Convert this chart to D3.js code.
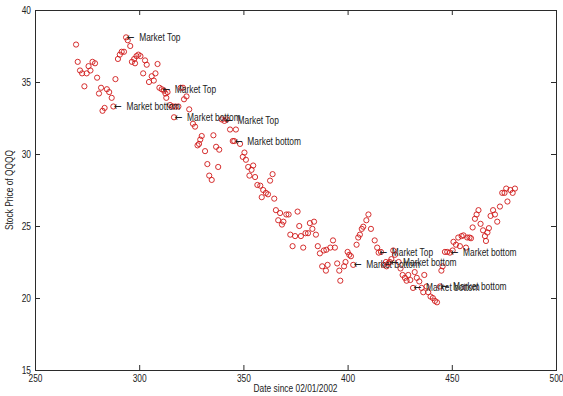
<!DOCTYPE html>
<html>
<head>
<meta charset="utf-8">
<script src="https://cdn.jsdelivr.net/npm/d3@7"></script>
<style>
  html, body { margin: 0; padding: 0; background: #fff; }
  svg { display: block; }
  .lbl { font-family: "Liberation Sans", Arial, Helvetica, sans-serif; }
  .arrow { font-family: "DejaVu Sans", sans-serif; font-size: 11px; }
</style>
</head>
<body>
<svg id="chart" width="563" height="396"></svg>
<script>
// Trading day offset (days since 02/01/2002) for each close
const days = [
  269.7,270.5,271.6,272.6,273.7,274.8,275.7,276.6,277.6,278.8,
  279.8,280.7,281.7,282.4,283.4,284.5,285.6,286.8,287.6,288.6,
  289.8,290.7,291.6,292.7,293.7,294.5,295.7,296.5,297.6,298.0,
  298.7,299.6,300.6,301.9,302.8,303.6,304.7,306.0,307.0,307.8,
  308.8,309.7,310.8,311.9,312.6,313.0,313.6,314.8,316.1,316.7,
  317.4,318.8,319.9,321.0,321.5,322.7,324.0,325.8,326.8,328.0,
  328.7,329.3,330.0,331.6,332.7,333.6,334.8,335.6,336.9,337.9,
  338.4,339.6,340.9,342.0,343.6,344.9,345.6,346.4,348.4,349.7,
  350.5,351.2,352.3,352.9,353.9,354.7,355.6,356.7,358.1,358.8,
  359.5,360.8,361.8,362.8,364.0,364.8,365.6,366.7,367.6,368.5,
  369.2,370.6,371.7,372.5,373.6,374.8,376.0,376.8,377.6,378.7,
  379.8,381.0,381.9,383.1,383.9,384.8,385.7,386.7,387.8,388.6,
  389.8,389.6,390.4,391.7,393.0,393.9,395.0,396.0,396.5,398.3,
  399.0,400.0,400.8,401.6,402.7,404.3,405.1,405.9,406.8,407.5,
  409.0,410.0,411.2,413.0,414.2,414.9,416.0,417.3,418.4,418.7,
  419.5,420.3,421.0,421.9,422.7,424.5,425.4,426.4,427.5,428.3,
  429.1,430.1,431.4,432.2,433.2,434.4,435.5,436.3,436.8,437.9,
  438.7,439.8,440.9,441.9,442.9,444.3,445.0,445.6,446.7,447.8,
  449.1,450.4,450.8,452.0,453.1,453.9,454.7,455.6,456.8,457.4,
  458.5,459.2,460.0,461.1,461.9,462.8,463.8,465.0,465.9,466.4,
  467.1,467.8,468.6,469.8,470.7,471.8,473.1,474.2,475.3,476.1,
  476.7,478.1,479.2,480.3
];

// QQQQ closing prices, same order as days
const prices = [
  37.6,36.4,35.8,35.6,34.7,35.6,36.1,35.8,36.4,36.3,
  35.3,34.2,34.6,33.0,33.2,34.5,34.3,33.9,33.3,35.2,
  36.6,36.9,37.1,37.1,38.1,37.9,37.5,36.4,36.6,36.3,
  36.8,36.9,36.8,35.6,36.5,36.2,35.0,35.4,35.1,35.6,
  36.25,34.6,34.5,34.4,34.2,33.9,34.3,33.4,33.3,32.55,
  33.3,33.3,34.6,34.6,33.8,34.0,33.1,32.1,31.9,30.6,
  30.7,31.0,31.25,30.2,29.3,28.5,28.2,31.3,30.5,29.1,
  30.3,32.4,32.3,32.4,31.7,30.9,30.9,31.7,30.7,29.8,
  30.1,29.6,29.1,28.5,28.9,29.2,28.4,27.85,27.8,27.0,
  27.5,27.3,27.2,28.15,28.6,26.9,26.1,25.4,25.9,25.1,
  25.3,25.8,25.8,24.4,23.6,24.3,26.0,25.0,24.3,23.5,
  24.5,24.5,25.2,24.8,25.3,24.4,23.6,23.1,22.2,23.3,
  23.35,21.9,22.3,23.5,24.0,23.5,22.4,21.9,21.2,22.2,
  22.5,23.2,23.0,22.9,22.3,23.7,24.2,24.4,24.8,24.95,
  25.4,25.8,24.8,24.0,23.5,23.15,23.2,22.3,22.5,22.2,
  22.4,22.5,22.7,23.3,23.0,22.5,22.05,21.6,21.4,21.2,
  21.6,21.25,20.7,21.8,21.4,21.15,20.7,20.4,21.6,20.8,
  20.4,20.1,20.0,19.8,19.7,20.8,21.9,22.2,23.2,23.2,
  23.15,23.3,23.9,23.7,24.2,23.6,24.3,24.35,23.5,24.2,
  24.2,24.15,24.9,25.5,25.8,26.1,25.15,24.7,24.3,23.96,
  24.55,24.85,25.7,26.1,25.8,25.3,26.35,27.3,27.3,27.6,
  26.7,27.5,27.3,27.6
];

// Turning points flagged on the chart
const noteDays   = [287.6, 293.7, 310.8, 316.7, 340.9, 345.6, 402.7, 414.9, 420.3, 431.4, 444.3, 449.1];
const notePrices = [33.3, 38.1, 34.5, 32.55, 32.3, 30.9, 22.3, 23.15, 22.5, 20.7, 20.8, 23.15];
const noteTexts  = ["Market bottom", "Market Top", "Market Top", "Market bottom", "Market Top", "Market bottom",
                    "Market bottom", "Market Top", "Market bottom", "Market bottom", "Market bottom", "Market bottom"];

const xTicks = [250, 300, 350, 400, 450, 500];
const yTicks = [15, 20, 25, 30, 35, 40];

const xTitle = "Date since 02/01/2002";
const yTitle = "Stock Price of QQQQ";

const svg = d3.select("#chart");
const plotL = 35, plotR = 556, plotT = 10, plotB = 370;
const squeeze = 0.84;   // narrow Helvetica-like lettering

const x = d3.scaleLinear().domain([250, 500]).range([plotL, plotR]);
const y = d3.scaleLinear().domain([15, 40]).range([plotB, plotT]);

const axisColor = "#2b2b2b";
const tickLen = 5;

function styleAxis(g, showLabels, anchorX) {
  g.select(".domain").remove();
  g.selectAll(".tick line").attr("stroke", axisColor).attr("stroke-width", 1);
  if (!showLabels) { g.selectAll(".tick text").remove(); return; }
  g.selectAll(".tick text")
    .attr("fill", "#222").attr("class", "lbl").style("font-size", "10px")
    .attr("transform", `translate(${anchorX},0) scale(${squeeze},1) translate(${-anchorX},0)`);
}

// Ticks point inward on all four sides
svg.append("g").attr("transform", `translate(0,${plotB})`)
  .call(d3.axisBottom(x).tickValues(xTicks).tickSizeInner(-tickLen).tickSizeOuter(0).tickPadding(5))
  .call(g => styleAxis(g, true, 0));
svg.append("g").attr("transform", `translate(0,${plotT})`)
  .call(d3.axisTop(x).tickValues(xTicks).tickSizeInner(-tickLen).tickSizeOuter(0))
  .call(g => styleAxis(g, false, 0));
svg.append("g").attr("transform", `translate(${plotL},0)`)
  .call(d3.axisLeft(y).tickValues(yTicks).tickSizeInner(-tickLen).tickSizeOuter(0).tickPadding(4))
  .call(g => styleAxis(g, true, -4));
svg.append("g").attr("transform", `translate(${plotR},0)`)
  .call(d3.axisRight(y).tickValues(yTicks).tickSizeInner(-tickLen).tickSizeOuter(0))
  .call(g => styleAxis(g, false, 0));

// Axes box
svg.append("rect")
  .attr("x", plotL + 0.5).attr("y", plotT + 0.5)
  .attr("width", plotR - plotL).attr("height", plotB - plotT)
  .attr("fill", "none").attr("stroke", axisColor).attr("stroke-width", 1);

// Price markers: open red circles
svg.append("g").selectAll("circle")
  .data(d3.range(days.length))
  .join("circle")
  .attr("cx", i => x(days[i]))
  .attr("cy", i => y(prices[i]))
  .attr("r", 2.6)
  .attr("fill", "none")
  .attr("stroke", "#d01818")
  .attr("stroke-width", 0.9);

// Turning-point annotations: a left arrow pointing at the marker, then the label
const notes = svg.append("g").selectAll("text")
  .data(d3.range(noteDays.length))
  .join("text")
  .attr("class", "lbl")
  .attr("transform", i => `translate(${x(noteDays[i]) + 0.5},${y(notePrices[i])}) scale(${squeeze},1)`)
  .attr("dy", "0.35em")
  .attr("fill", "#222")
  .style("font-size", "10px");
notes.append("tspan").attr("class", "arrow").text("\u2190");
notes.append("tspan").attr("dx", 3).text(i => " " + noteTexts[i]);

// Axis titles
svg.append("text")
  .attr("class", "lbl")
  .attr("transform", `translate(${(plotL + plotR) / 2},392) scale(${squeeze},1)`)
  .attr("text-anchor", "middle")
  .attr("fill", "#222")
  .style("font-size", "10px")
  .text(xTitle);

svg.append("text")
  .attr("class", "lbl")
  .attr("transform", `translate(13,${(plotT + plotB) / 2}) rotate(-90) scale(${squeeze},1)`)
  .attr("text-anchor", "middle")
  .attr("fill", "#222")
  .style("font-size", "10px")
  .text(yTitle);
</script>
</body>
</html>
